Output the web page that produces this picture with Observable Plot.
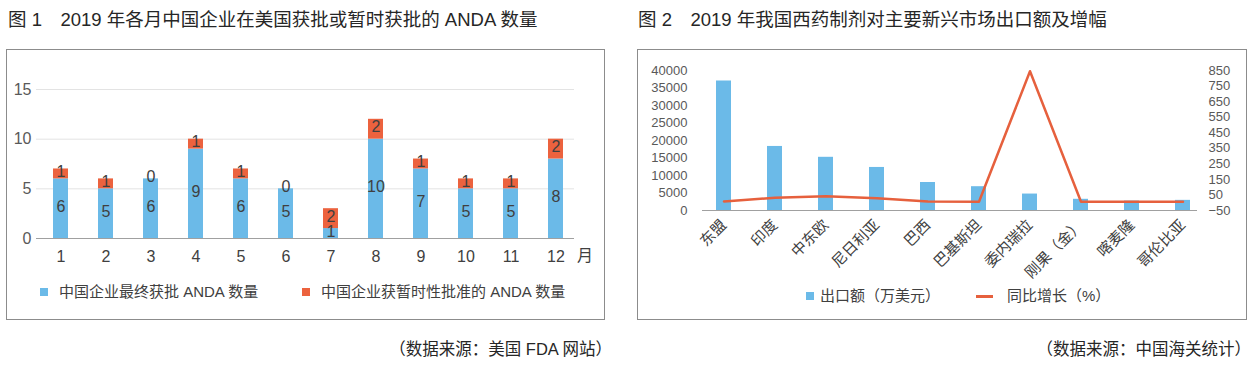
<!DOCTYPE html>
<html>
<head>
<meta charset="utf-8">
<script src="https://cdn.jsdelivr.net/npm/d3@7"></script>
<script src="https://cdn.jsdelivr.net/npm/@observablehq/plot@0.6"></script>
<style>
  body { margin: 0; background: #fff; }
  #wrap { position: relative; width: 1253px; height: 372px; overflow: hidden;
          font-family: "Liberation Sans", "Noto Sans CJK SC", sans-serif; color: #262626; }
  .title { position: absolute; top: 9px; font-size: 18.5px; white-space: pre; line-height: 22px; }
  .box { position: absolute; top: 49px; height: 271px; border: 1.5px solid #8c8c8c; box-sizing: border-box; }
  .chart { position: absolute; top: 49px; }
  .legend { position: absolute; font-size: 15px; color: #404040; white-space: pre; line-height: 18px; }
  .sw { position: absolute; width: 8px; height: 8px; }
  .ln { position: absolute; width: 17px; height: 2.5px; }
  .source { position: absolute; top: 338px; font-size: 16.5px; white-space: pre; line-height: 22px; text-align: right; color: #262626; }
  .unit { position: absolute; font-size: 16px; color: #404040; line-height: 18px; }
</style>
</head>
<body>
<div id="wrap">
  <div class="title" id="t1" style="left:8px;"></div>
  <div class="box" style="left:6px;width:599px;"></div>
  <div class="chart" id="c1" style="left:6px;"></div>
  <div class="unit" id="u1" style="left:577px;top:247px;"></div>
  <div id="lg1"></div>
  <div class="source" id="s1" style="right:641px;"></div>

  <div class="title" id="t2" style="left:638px;"></div>
  <div class="box" style="left:637px;width:610px;"></div>
  <div class="chart" id="c2" style="left:637px;"></div>
  <div id="lg2"></div>
  <div class="source" id="s2" style="right:2px;"></div>
</div>
<script>
// ---------------- Data: chart 1 ----------------
const title1 = "图 1\u30002019 年各月中国企业在美国获批或暂时获批的 ANDA 数量";
const months = ["1","2","3","4","5","6","7","8","9","10","11","12"];
const monthUnit = "月";
const finalApproved = [6, 5, 6, 9, 6, 5, 1, 10, 7, 5, 5, 8];
const tentativeApproved = [1, 1, 0, 1, 1, 0, 2, 2, 1, 1, 1, 2];
const seriesNames1 = ["中国企业最终获批 ANDA 数量", "中国企业获暂时性批准的 ANDA 数量"];
const yTicks1 = [0, 5, 10, 15];
const source1 = "（数据来源：美国 FDA 网站）";

// ---------------- Data: chart 2 ----------------
const title2 = "图 2\u30002019 年我国西药制剂对主要新兴市场出口额及增幅";
const markets = ["东盟","印度","中东欧","尼日利亚","巴西","巴基斯坦","委内瑞拉","刚果（金）","喀麦隆","哥伦比亚"];
const exportValue = [37000, 18300, 15200, 12300, 8000, 6800, 4700, 3200, 2700, 2900];
const growthRate = [8, 32, 41, 28, 8, 6, 845, 6, 6, 6];
const seriesNames2 = ["出口额（万美元）", "同比增长（%）"];
const yTicksLeft = [0, 5000, 10000, 15000, 20000, 25000, 30000, 35000, 40000];
const yTicksRight = [-50, 50, 150, 250, 350, 450, 550, 650, 750, 850];
const source2 = "（数据来源：中国海关统计）";

const BLUE = "#6BBAE8";
const RED = "#EC623E";
const LINE = "#E6603D";
const FONT = "'Liberation Sans', 'Noto Sans CJK SC', sans-serif";

document.getElementById("t1").textContent = title1;
document.getElementById("t2").textContent = title2;
document.getElementById("u1").textContent = monthUnit;
document.getElementById("s1").textContent = source1;
document.getElementById("s2").textContent = source2;

// ---------------- Chart 1 ----------------
const rows1 = months.flatMap((m, i) => [
  {month: m, series: seriesNames1[0], value: finalApproved[i], y1: 0, y2: finalApproved[i]},
  {month: m, series: seriesNames1[1], value: tentativeApproved[i], y1: finalApproved[i], y2: finalApproved[i] + tentativeApproved[i]}
]);

const chart1 = Plot.plot({
  width: 598, height: 225,
  marginLeft: 30, marginRight: 30, marginTop: 40, marginBottom: 36,
  style: {fontFamily: FONT, fontSize: "16px", background: "transparent", overflow: "visible"},
  x: {domain: months, paddingInner: 0.67, paddingOuter: 0.27, align: 0.6, label: null},
  y: {domain: [0, 15], label: null},
  color: {domain: seriesNames1, range: [BLUE, RED]},
  marks: [
    Plot.gridY(yTicks1.filter(d => d > 0), {stroke: "#e3e3e3", strokeOpacity: 1, strokeWidth: 1}),
    Plot.barY(rows1, {x: "month", y1: "y1", y2: "y2", fill: "series"}),
    Plot.ruleY([0], {stroke: "#a0a0a0", strokeWidth: 1}),
    Plot.axisY({ticks: yTicks1, tickSize: 0, tickPadding: 5, color: "#595959", label: null, fontSize: 16}),
    Plot.axisX({tickSize: 0, tickPadding: 12, color: "#404040", label: null, fontSize: 16}),
    Plot.text(rows1, {x: "month", y: d => (d.y1 + d.y2) / 2, dy: -2, text: d => String(d.value), fill: "#404040", fontSize: 16})
  ]
});
document.getElementById("c1").appendChild(chart1);

// legend 1
const lg1 = document.getElementById("lg1");
[[40, 59], [302, 321]].forEach(([sx, tx], i) => {
  const sw = document.createElement("div");
  sw.className = "sw"; sw.style.left = sx + "px"; sw.style.top = "288px";
  sw.style.background = [BLUE, RED][i];
  lg1.appendChild(sw);
  const t = document.createElement("div");
  t.className = "legend"; t.style.left = tx + "px"; t.style.top = "283px";
  t.textContent = seriesNames1[i];
  lg1.appendChild(t);
});

// ---------------- Chart 2 ----------------
const toLeft = d3.scaleLinear([-50, 850], [0, 40000]);
const rows2 = markets.map((m, i) => ({market: m, exp: exportValue[i], growth: growthRate[i]}));
const fmtRight = d => { const v = Math.round(toLeft.invert(d)); return v < 0 ? "\u2212" + (-v) : String(v); };

const chart2 = Plot.plot({
  width: 609, height: 230,
  marginLeft: 65, marginRight: 49, marginTop: 21, marginBottom: 69,
  style: {fontFamily: FONT, fontSize: "13px", background: "transparent", overflow: "visible"},
  x: {domain: markets, paddingInner: 0.707, paddingOuter: 0.19, align: 0.67, label: null},
  y: {domain: [0, 40000], label: null},
  marks: [
    Plot.barY(rows2, {x: "market", y: "exp", fill: BLUE}),
    Plot.ruleY([0], {stroke: "#a0a0a0", strokeWidth: 1}),
    Plot.lineY(rows2, {x: "market", y: d => toLeft(d.growth), stroke: LINE, strokeWidth: 2.5}),
    Plot.axisY({ticks: yTicksLeft, tickSize: 0, tickPadding: 15, color: "#595959", label: null, fontSize: 13, tickFormat: d => String(d)}),
    Plot.axisY(yTicksRight.map(v => toLeft(v)), {anchor: "right", tickSize: 0, tickPadding: 11, color: "#595959", label: null, fontSize: 13, tickFormat: fmtRight}),
    Plot.axisX({tickSize: 0, tickPadding: 12, tickRotate: -45, color: "#404040", label: null, fontSize: 15})
  ]
});
document.getElementById("c2").appendChild(chart2);

// legend 2
const lg2 = document.getElementById("lg2");
{
  const sw = document.createElement("div");
  sw.className = "sw"; sw.style.left = "806px"; sw.style.top = "292px"; sw.style.background = BLUE;
  lg2.appendChild(sw);
  const t1 = document.createElement("div");
  t1.className = "legend"; t1.style.left = "820px"; t1.style.top = "287px"; t1.textContent = seriesNames2[0];
  lg2.appendChild(t1);
  const ln = document.createElement("div");
  ln.className = "ln"; ln.style.left = "976px"; ln.style.top = "295px"; ln.style.background = LINE;
  lg2.appendChild(ln);
  const t2 = document.createElement("div");
  t2.className = "legend"; t2.style.left = "1007px"; t2.style.top = "287px"; t2.textContent = seriesNames2[1];
  lg2.appendChild(t2);
}
</script>
</body>
</html>
